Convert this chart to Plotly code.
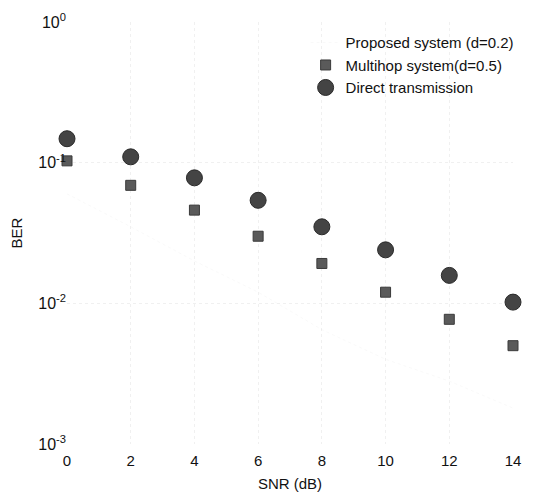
import plotly.graph_objects as go

snr = [0, 2, 4, 6, 8, 10, 12, 14]
ber_direct = [0.148, 0.110, 0.078, 0.054, 0.035, 0.024, 0.0158, 0.0102]
ber_multihop = [0.103, 0.069, 0.046, 0.030, 0.0192, 0.012, 0.0077, 0.0050]
ber_proposed = [0.06, 0.035, 0.02, 0.012, 0.0065, 0.004, 0.0028, 0.0018]
y_tickvals = [1e-3, 1e-2, 1e-1, 1e0]
y_ticktext = ["10<sup>-3</sup>", "10<sup>-2</sup>", "10<sup>-1</sup>", "10<sup>0</sup>"]

font = "Liberation Sans, Arial, sans-serif"

fig = go.Figure()
fig.add_trace(go.Scatter(
    x=snr, y=ber_proposed, mode="lines", name="Proposed system (d=0.2)",
    line=dict(color="rgba(150,150,150,0.06)", width=1, dash="dot"),
    cliponaxis=False,
))
fig.add_trace(go.Scatter(
    x=snr, y=ber_multihop, mode="markers", name="Multihop system(d=0.5)",
    marker=dict(symbol="square", size=10, color="#5a5a5a",
                line=dict(color="#3a3a3a", width=1)),
    cliponaxis=False,
))
fig.add_trace(go.Scatter(
    x=snr, y=ber_direct, mode="markers", name="Direct transmission",
    marker=dict(symbol="circle", size=16, color="#444444",
                line=dict(color="#2a2a2a", width=1)),
    cliponaxis=False,
))

fig.update_layout(
    width=555, height=494,
    margin=dict(l=59, r=50, t=14, b=58, autoexpand=False),
    paper_bgcolor="white", plot_bgcolor="white",
    font=dict(family=font, size=15, color="#111"),
    showlegend=True,
    legend=dict(x=0.535, y=0.99, xanchor="left", yanchor="top",
                bgcolor="rgba(0,0,0,0)", borderwidth=0,
                font=dict(size=15), itemwidth=30, tracegroupgap=0),
)
fig.update_xaxes(
    range=[0, 14], tickvals=snr, ticks="", showline=False, zeroline=False,
    showgrid=True, gridcolor="#f0f0f0", griddash="dot", gridwidth=1,
    title=dict(text="SNR (dB)", font=dict(size=15), standoff=10),
    tickfont=dict(size=15), ticklabelstandoff=6, automargin=False,
)
fig.update_yaxes(
    type="log", range=[-3, 0], tickvals=y_tickvals, ticktext=y_ticktext,
    ticks="", showline=False, zeroline=False,
    showgrid=True, gridcolor="#f0f0f0", griddash="dot", gridwidth=1,
    title=dict(text="BER", font=dict(size=15), standoff=25),
    tickfont=dict(size=16), automargin=False,
)

fig.write_html("out.html")
